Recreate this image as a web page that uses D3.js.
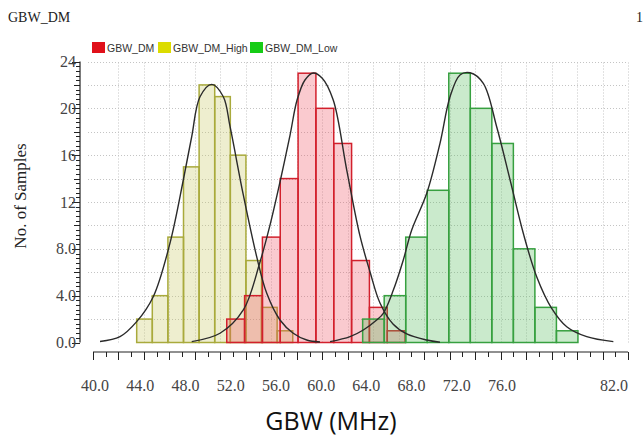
<!DOCTYPE html>
<html>
<head>
<meta charset="utf-8">
<script src="https://cdn.jsdelivr.net/npm/d3@7"></script>
<style>
  body { margin: 0; background: #fff; }
  svg { display: block; }
  .serif { font-family: "Liberation Serif", "DejaVu Serif", serif; }
</style>
</head>
<body>
<div id="chart"></div>
<script>
// series names, legend order
var seriesNames = ["GBW_DM", "GBW_DM_High", "GBW_DM_Low"];

// histogram counts (10 bins each), first bin edge and bin width in MHz
var dmCounts   = [2, 4, 9, 14, 23, 20, 17, 7, 3, 1];
var dmStart    = 50.50, dmWidth = 1.40;
var highCounts = [2, 4, 9, 15, 22, 21, 16, 7, 3, 1];
var highStart  = 43.43, highWidth = 1.225;
var lowCounts  = [2, 4, 9, 13, 23, 20, 17, 8, 3, 1];
var lowStart   = 61.17, lowWidth = 1.69;

// fitted curves [MHz, samples]
var highCurve = [[40.55,0.09],[42.12,0.50],[43.43,1.78],[44.73,3.91],[46.04,8.47],[47.09,13.88],
  [47.75,17.58],[48.40,20.99],[49.32,22.05],[50.23,20.99],[50.76,18.43],[51.80,12.60],[52.85,7.33],
  [53.64,4.20],[54.68,1.92],[55.72,0.79],[56.78,0.21],[57.82,0.04]];
var dmCurve = [[47.75,0.07],[49.97,0.79],[51.80,2.78],[53.11,6.88],[53.90,10.04],[54.68,13.71],
  [55.47,17.72],[56.02,20.71],[56.64,22.42],[57.29,23.02],[57.98,22.59],[58.86,20.71],[59.92,14.73],
  [60.96,9.10],[61.75,6.02],[62.53,3.37],[63.55,1.58],[64.63,0.73],[66.20,0.21],[67.24,0.02]];
var lowCurve = [[58.61,0.07],[60.18,0.50],[61.22,1.07],[62.27,1.92],[62.79,2.49],[63.58,4.48],
  [64.36,7.05],[65.02,9.61],[66.20,12.74],[67.24,17.01],[68.03,20.99],[68.81,22.85],[69.60,23.04],
  [70.64,22.14],[71.69,18.43],[72.74,13.90],[73.78,9.33],[74.83,5.62],[76.01,2.92],[77.19,1.35],
  [78.76,0.50],[80.85,0.07]];

// axis labels
var xLabels = [40, 44, 48, 52, 56, 60, 64, 68, 72, 76];
var xEndLabel = 82;
var yTicks = [0, 4, 8, 12, 16, 20, 24];

var W = 644, H = 441;

var svg = d3.select("#chart").append("svg")
    .attr("width", W)
    .attr("height", H);

var x = d3.scaleLinear().domain([40, 82]).range([93, 628]);
var y = d3.scaleLinear().domain([0, 24]).range([342.5, 61.5]);
// the tool spaces its x labels a bit tighter than the ruler
var xLab = d3.scaleLinear().domain([40, 76]).range([x(40.16), x(72.11)]);

var plotLeft = 88, plotRight = x(82);

// title + page number
svg.append("text").attr("class", "serif")
    .attr("x", 8).attr("y", 22)
    .style("font-size", "14px").style("fill", "#222")
    .text("GBW_DM");
svg.append("text").attr("class", "serif")
    .attr("x", 636).attr("y", 22)
    .style("font-size", "14px").style("fill", "#222")
    .text("1");

// grid
var grid = svg.append("g").attr("class", "grid")
    .style("stroke", "#c4c4c4").style("stroke-width", 1).style("stroke-dasharray", "1,2");
grid.selectAll("line.h")
    .data(d3.range(2, 25, 2))
    .enter().append("line")
    .attr("x1", plotLeft).attr("x2", plotRight)
    .attr("y1", function(d){ return Math.round(y(d)) + 0.5; })
    .attr("y2", function(d){ return Math.round(y(d)) + 0.5; });
grid.selectAll("line.v")
    .data(d3.range(42, 83, 2))
    .enter().append("line")
    .attr("y1", y(0)).attr("y2", y(24))
    .attr("x1", function(d){ return Math.round(x(d)) + 0.5; })
    .attr("x2", function(d){ return Math.round(x(d)) + 0.5; });

// histograms
var series = [
  {name: "GBW_DM_High", counts: highCounts, start: highStart, width: highWidth, fill: "rgb(200,200,95)", stroke: "#a9aa3c", curve: highCurve},
  {name: "GBW_DM",      counts: dmCounts,   start: dmStart,   width: dmWidth,   fill: "rgb(240,80,95)",  stroke: "#d2202c", curve: dmCurve},
  {name: "GBW_DM_Low",  counts: lowCounts,  start: lowStart,  width: lowWidth,  fill: "rgb(80,185,85)",  stroke: "#37a040", curve: lowCurve}
];

series.forEach(function(s){
  svg.append("g")
    .selectAll("rect")
    .data(s.counts)
    .enter().append("rect")
    .attr("x", function(d, i){ return x(s.start + i * s.width); })
    .attr("y", function(d){ return y(d); })
    .attr("width", x(s.start + s.width) - x(s.start))
    .attr("height", function(d){ return y(0) - y(d); })
    .style("fill", s.fill)
    .style("fill-opacity", 0.3)
    .style("stroke", s.stroke)
    .style("stroke-width", 1.5);
});

var line = d3.line()
    .x(function(d){ return x(d[0]); })
    .y(function(d){ return y(d[1]); })
    .curve(d3.curveCatmullRom);

series.forEach(function(s){
  svg.append("path")
    .datum(s.curve)
    .attr("d", line)
    .style("fill", "none")
    .style("stroke", "#2a2a2a")
    .style("stroke-width", 1.4);
});

// y axis ruler
var yAxisX = 80;
var yMinor = d3.range(0, 24.01, 0.4);
var yg = svg.append("g").attr("transform", "translate(" + yAxisX + ",0)");
yg.append("line").attr("y1", y(0)).attr("y2", y(24)).style("stroke", "#222").style("stroke-width", 1.2);
yg.selectAll("line.t")
    .data(yMinor)
    .enter().append("line")
    .attr("x1", function(d, i){ return i % 10 === 0 ? -8 : (i % 5 === 0 ? -6 : -4); })
    .attr("x2", 0)
    .attr("y1", function(d){ return Math.round(y(d)) + 0.5; })
    .attr("y2", function(d){ return Math.round(y(d)) + 0.5; })
    .style("stroke", "#222");
yg.selectAll("text")
    .data(yTicks)
    .enter().append("text")
    .attr("class", "serif")
    .attr("x", -4)
    .attr("y", function(d){ return y(d); })
    .attr("dy", "0.35em")
    .style("text-anchor", "end")
    .style("font-size", "16px")
    .style("fill", "#444")
    .text(function(d){ return d < 10 ? d.toFixed(1) : d; });

svg.append("text").attr("class", "serif")
    .attr("transform", "translate(26," + 196 + ") rotate(-90)")
    .style("text-anchor", "middle")
    .style("font-size", "17px")
    .style("fill", "#222")
    .text("No. of Samples");

// x axis ruler
var xRulerY = 352;
var xg = svg.append("g").attr("transform", "translate(0," + xRulerY + ")");
xg.append("line").attr("x1", x(40)).attr("x2", x(82)).style("stroke", "#222").style("stroke-width", 1.2);
xg.selectAll("line.t")
    .data(d3.range(40, 82.01, 1))
    .enter().append("line")
    .attr("x1", function(d){ return Math.round(x(d)) + 0.5; })
    .attr("x2", function(d){ return Math.round(x(d)) + 0.5; })
    .attr("y1", 0)
    .attr("y2", function(d){ return d % 2 === 0 ? 8 : 5; })
    .style("stroke", "#222");

var xl = svg.append("g").attr("class", "serif")
    .style("font-size", "16px").style("fill", "#444");
xl.selectAll("text")
    .data(xLabels)
    .enter().append("text")
    .attr("x", function(d){ return xLab(d); })
    .attr("y", 391)
    .style("text-anchor", "middle")
    .text(function(d){ return d.toFixed(1); });
xl.append("text")
    .attr("x", x(82))
    .attr("y", 391)
    .style("text-anchor", "end")
    .text(xEndLabel.toFixed(1));

svg.append("text")
    .attr("x", 331).attr("y", 430)
    .style("text-anchor", "middle")
    .style("font-family", "'Open Sans', 'Noto Sans', sans-serif")
    .style("font-size", "25px")
    .style("fill", "#111")
    .text("GBW (MHz)");

// legend
var legendColors = ["#e0101a", "#dcdc00", "#16cc16"];
var legendX = [92, 158, 250];
var lg = svg.append("g");
seriesNames.forEach(function(n, i){
  lg.append("rect")
    .attr("x", legendX[i]).attr("y", 42)
    .attr("width", 13).attr("height", 11)
    .style("fill", legendColors[i]);
  lg.append("text")
    .attr("x", legendX[i] + 15).attr("y", 52)
    .style("font-family", "'Liberation Sans', Arial, sans-serif")
    .style("font-size", "10.5px")
    .style("fill", "#333")
    .text(n);
});
</script>
</body>
</html>
